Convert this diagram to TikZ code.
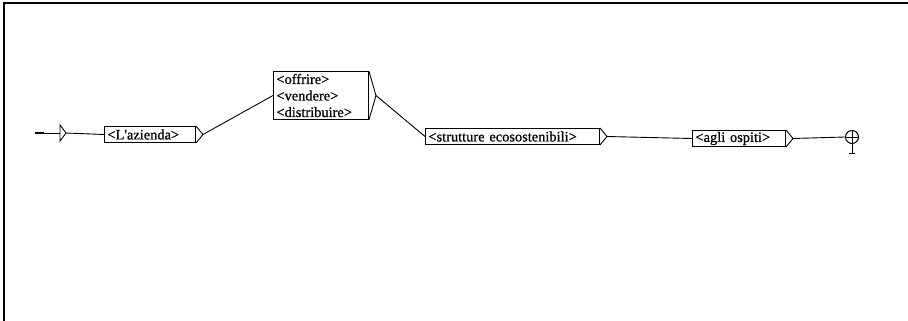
\documentclass[tikz,border=0pt]{standalone}
\usepackage{fontspec}
\setmainfont{Liberation Serif}
\newfontfamily\unifont[FakeBold=0.8]{Liberation Serif}
\usetikzlibrary{positioning}

\begin{document}
\begin{tikzpicture}[x=1pt, y=-1pt,
  font=\unifont\fontsize{14.4}{16.5}\selectfont,
  scatola/.style={draw, line width=1pt, anchor=west, align=left, inner xsep=3pt, inner ysep=0pt, minimum height=16pt, text width=#1},
  linea/.style={line width=0.9pt},
  punta/.style={line width=0.9pt}]
\useasboundingbox (0,0) rectangle (908,321);
\draw[line width=1.8pt] (4,321) -- (4,3) -- (908,3);

% stato iniziale
\coordinate (avvio) at (35,133);
\coordinate (inizio) at (60,133);
\coordinate (inizio-out) at (66,133);
\draw[line width=2.2pt] (avvio) -- ++(9,0);
\draw[linea] (avvio) -- (inizio);
\draw[punta] (inizio) ++(0,-8) -- ++(0,16) -- (inizio-out) -- cycle;

% scatole
\node[scatola=85pt] (azi) at (104,134.5) {<L'azienda>};
\node[scatola=89pt, inner ysep=2pt] (verbi) at (273,95.5) {<offrire>\\<vendere>\\<distribuire>};
\node[scatola=168pt] (strut) at (425,136.5) {<strutture ecosostenibili>};
\node[scatola=87pt] (agli) at (692,138.5) {<agli ospiti>};
\foreach \b in {azi,verbi,strut,agli}
  \draw[punta] (\b.north east) -- ([xshift=7pt]\b.east) -- (\b.south east);

% stato finale
\node[draw, circle, minimum size=13pt, inner sep=0pt, line width=1pt] (fine) at (852,137) {};
\draw[linea] (fine.north) -- (fine.south) (fine.west) -- (fine.east);
\draw[linea] (fine.south) -- ++(0,9) ++(-3,0) -- ++(6,0);

% transizioni
\draw[linea] (inizio-out) -- (azi.west);
\draw[linea] ([xshift=7pt]azi.east) -- (verbi.west);
\draw[linea] ([xshift=7pt]verbi.east) -- (strut.west);
\draw[linea] ([xshift=7pt]strut.east) -- (agli.west);
\draw[linea] ([xshift=7pt]agli.east) -- (fine.west);
\end{tikzpicture}
\end{document}
